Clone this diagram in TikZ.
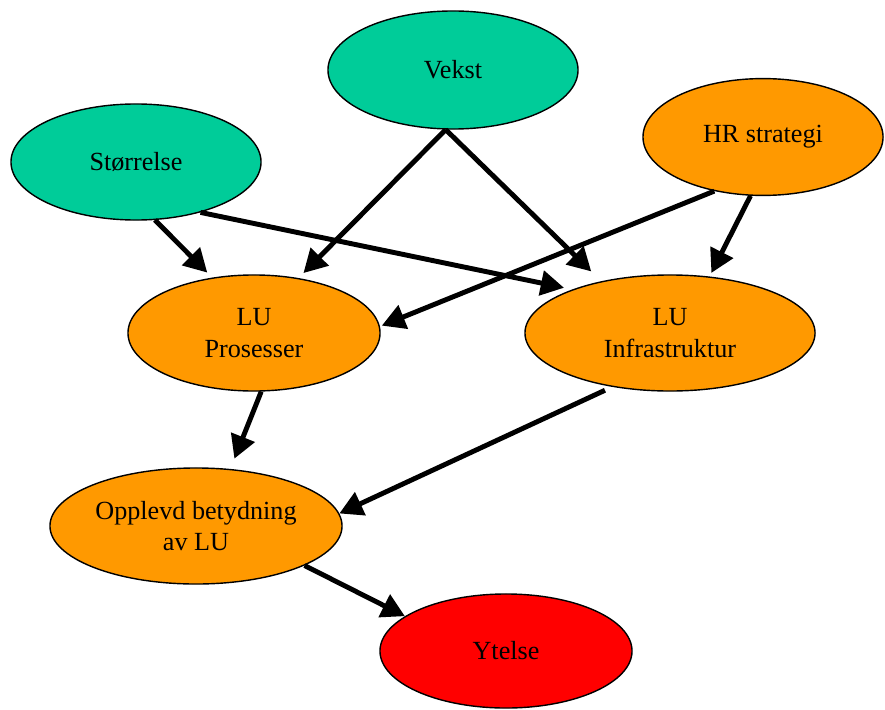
\documentclass[tikz,border=0pt]{standalone}
\usepackage{fontspec}
\setmainfont{Liberation Serif}
\usetikzlibrary{shapes.geometric,arrows.meta}
\definecolor{sea}{RGB}{0,204,153}
\definecolor{amber}{RGB}{255,153,0}
\begin{document}
\begin{tikzpicture}[x=0.025cm,y=-0.025cm,
  oval/.style={ellipse,draw,line width=1pt,inner sep=0pt,align=center,font=\fontsize{18.6}{22.5}\selectfont},
  link/.style={line width=3.5pt,-{Triangle[length=16.5pt,width=17.5pt]}}]
\useasboundingbox (0,0) rectangle (885,709);

\node[oval,fill=sea,minimum width=6.25cm,minimum height=2.95cm] (vekst) at (453,70) {Vekst};
\node[oval,fill=sea,minimum width=6.25cm,minimum height=2.9cm] (stor) at (136,162) {Størrelse};
\node[oval,fill=amber,minimum width=6cm,minimum height=2.92cm] (hr) at (763,137) {HR strategi};
\node[oval,fill=amber,minimum width=6.3cm,minimum height=2.9cm] (pros) at (254,333) {LU\\Prosesser};
\node[oval,fill=amber,minimum width=7.25cm,minimum height=2.9cm] (infra) at (670,333) {LU\\Infrastruktur};
\node[oval,fill=amber,minimum width=7.3cm,minimum height=2.9cm] (opp) at (196,526) {Opplevd betydning\\av LU};
\node[oval,fill=red,minimum width=6.3cm,minimum height=2.85cm] (ytelse) at (506,651) {Ytelse};

\draw[link,shorten >=0.175cm] (vekst.263) -- (pros.51);
\draw[link,shorten >=0.35cm] (vekst.263) -- (infra.143);
\draw[link,shorten >=0.175cm] (stor.288) -- (pros.127);
\draw[link,shorten >=0.21cm] (stor.322) -- (infra.156);
\draw[link,shorten >=0.05cm] (hr.228) -- (pros.3);
\draw[link,shorten >=0.1cm] (hr.258) -- (infra.55);
\draw[link,shorten >=0.275cm] (pros.277) -- (opp.59);
\draw[link,shorten <=0.2cm] (infra.223) -- (opp.5);
\draw[link] (opp.340) -- (ytelse.161);

\end{tikzpicture}
\end{document}
